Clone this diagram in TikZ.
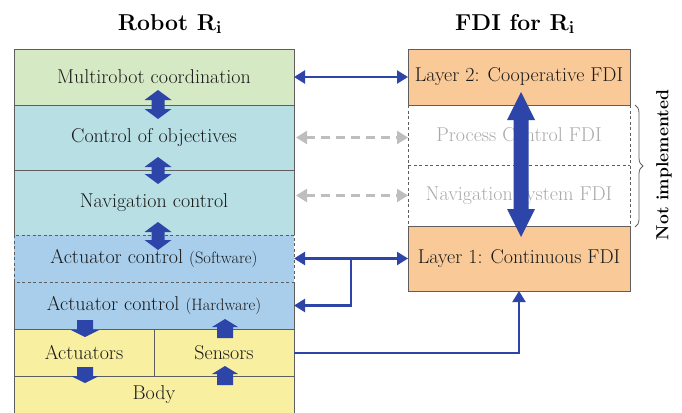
\documentclass[tikz,border=0pt]{standalone}
\usetikzlibrary{arrows.meta,decorations.pathreplacing,calc}

\definecolor{cgreen}{HTML}{D5E9C4}
\definecolor{cteal}{HTML}{B8DFE4}
\definecolor{cblue}{HTML}{A8CEEC}
\definecolor{cyellow}{HTML}{F8EFA0}
\definecolor{corange}{HTML}{F9C997}
\definecolor{ablue}{HTML}{2D45A8}
\definecolor{agray}{HTML}{BEBEBE}
\definecolor{bordergray}{HTML}{5E5E5E}
\definecolor{txt}{HTML}{1A1A1A}
\definecolor{fadedtxt}{HTML}{A9A9A9}

\newcommand{\lblfont}{\fontsize{20}{23}\selectfont}
\newcommand{\smallfont}{\fontsize{16.5}{19}\selectfont}
\newcommand{\titlefont}{\fontsize{23}{27}\selectfont\bfseries}

\begin{document}
\begin{tikzpicture}[x=1pt,y=-1pt,
  layer/.style={anchor=north west, inner sep=0pt, outer sep=0pt,
    minimum width=280pt, text=txt, font=\lblfont},
  fdibox/.style={anchor=north west, inner sep=0pt, outer sep=0pt,
    minimum width=222pt, font=\lblfont},
  border/.style={draw=bordergray, line width=0.9pt},
  dashborder/.style={draw=bordergray, line width=0.9pt, dash pattern=on 3pt off 2.5pt},
  link/.style={draw=ablue, line width=2.4pt,
    arrows={Triangle[length=11pt,width=13pt]-Triangle[length=11pt,width=13pt]}},
  onelink/.style={draw=ablue, line width=2.4pt, -{Triangle[length=11pt,width=13pt]}},
  ghostlink/.style={draw=agray, line width=2.4pt, dash pattern=on 9pt off 6pt,
    arrows={Triangle[length=11pt,width=13pt]-Triangle[length=11pt,width=13pt]}},
  title/.style={font=\titlefont, text=black},
  % vertical double block arrow: half length, half shaft, half head, head length
  pics/dblv/.style n args={4}{code={
    \fill[ablue] (0,-#1) -- (#3,{-#1+#4}) -- (#2,{-#1+#4}) -- (#2,{#1-#4})
      -- (#3,{#1-#4}) -- (0,#1) -- (-#3,{#1-#4}) -- (-#2,{#1-#4})
      -- (-#2,{-#1+#4}) -- (-#3,{-#1+#4}) -- cycle;}},
  % single block arrow, tip at the origin pointing down: length, half shaft, half head, head length
  pics/onev/.style n args={4}{code={
    \fill[ablue] (0,0) -- (#3,-#4) -- (#2,-#4) -- (#2,-#1) -- (-#2,-#1)
      -- (-#2,-#4) -- (-#3,-#4) -- cycle;}}
]
\useasboundingbox (0,0) rectangle (682,412);

% ---- titles
\node[title] (tl) at (170,24) {Robot R$_{\mathbf{i}}$};
\node[title] (tr) at (515,24) {FDI for R$_{\mathbf{i}}$};

% ---- robot layers
\node[layer, fill=cgreen,  minimum height=56pt] (mrc) at (14,49)  {Multirobot coordination};
\node[layer, fill=cteal,   minimum height=65pt] (coo) at (14,105) {Control of objectives};
\node[layer, fill=cteal,   minimum height=65pt] (nav) at (14,170) {Navigation control};
\node[layer, fill=cblue,   minimum height=47pt] (acs) at (14,235) {Actuator control {\smallfont(Software)}};
\node[layer, fill=cblue,   minimum height=47pt] (ach) at (14,282) {Actuator control {\smallfont(Hardware)}};
\node[layer, fill=cyellow, minimum height=47pt, minimum width=140pt] (act) at (14,329)  {Actuators};
\node[layer, fill=cyellow, minimum height=47pt, minimum width=140pt] (sen) at (154,329) {Sensors};
\node[layer, fill=cyellow, minimum height=37pt] (body) at (14,376) {Body};

% borders of the robot column
\draw[border] (nav.south west) |- (mrc.north east) -- (nav.south east);
\draw[border] (mrc.south west) -- (mrc.south east);
\draw[border] (coo.south west) -- (coo.south east);
\draw[border] (ach.north west) -- (body.south west);
\draw[border] (ach.north east) -- (body.south east);
\draw[border] (act.north west) -- (sen.north east);
\draw[border] (act.south west) -- (sen.south east);
\draw[border] (act.north east) -- (act.south east);
\draw[dashborder] (acs.north west) rectangle (acs.south east);

% ---- FDI layers
\node[fdibox, minimum height=60pt, text=fadedtxt] (pcf) at (408,105) {Process Control FDI};
\node[fdibox, minimum height=61pt, text=fadedtxt] (nsf) at (408,165) {Navigation system FDI};
\draw[dashborder] (pcf.north west) -- (nsf.south west);
\draw[dashborder] (pcf.north east) -- (nsf.south east);
\draw[dashborder] (pcf.south west) -- (pcf.south east);
\node[fdibox, border, fill=corange, text=txt, minimum height=56pt] (l2) at (408,49)  {Layer 2: Cooperative FDI};
\node[fdibox, border, fill=corange, text=txt, minimum height=65pt] (l1) at (408,226) {Layer 1: Continuous FDI};

% ---- block arrows inside the robot column
\pic (v1) at (158,104.5) {dblv={14.5}{6.5}{13.5}{10}};
\pic (v2) at (158,170.5) {dblv={13.5}{6.5}{13.5}{10}};
\pic (v3) at (158,236)   {dblv={14}{6.5}{13.5}{10}};
\pic (d1) at (85,337)  {onev={17}{8}{14}{7}};
\pic (d2) at (85,383)  {onev={16}{8}{14}{7}};
\pic[yscale=-1] (u1) at (225,319) {onev={19}{8}{13}{8}};
\pic[yscale=-1] (u2) at (225,366) {onev={19}{8}{13}{8}};

% ---- big arrow between the two FDI layers
\pic (big) at (521,164.5) {dblv={72.5}{7.5}{14}{28}};

% ---- connectors
\draw[link] (mrc.east) -- (l2.west);
\draw[ghostlink] ($(coo.east)+(2,0)$) -- (coo.east -| pcf.west);
\draw[ghostlink] ($(nav.east |- nsf.west)+(2,0)$) -- (nsf.west);
\draw[link] (acs.east) -- (l1.west);
\coordinate (br) at ($(acs.east)!0.5!(l1.west)$);
\draw[onelink] (br) |- (ach.east);
\draw[onelink, line width=2pt] (sen.east) -| (l1.south);

% ---- not implemented bracket
\draw[decorate, decoration={brace, amplitude=8pt}, draw=bordergray, line width=0.8pt]
  (635,105) -- (635,227);
\node[rotate=90, font=\fontsize{17.5}{19}\selectfont\bfseries, text=black] (ni) at (664,165) {Not implemented};
\end{tikzpicture}
\end{document}
